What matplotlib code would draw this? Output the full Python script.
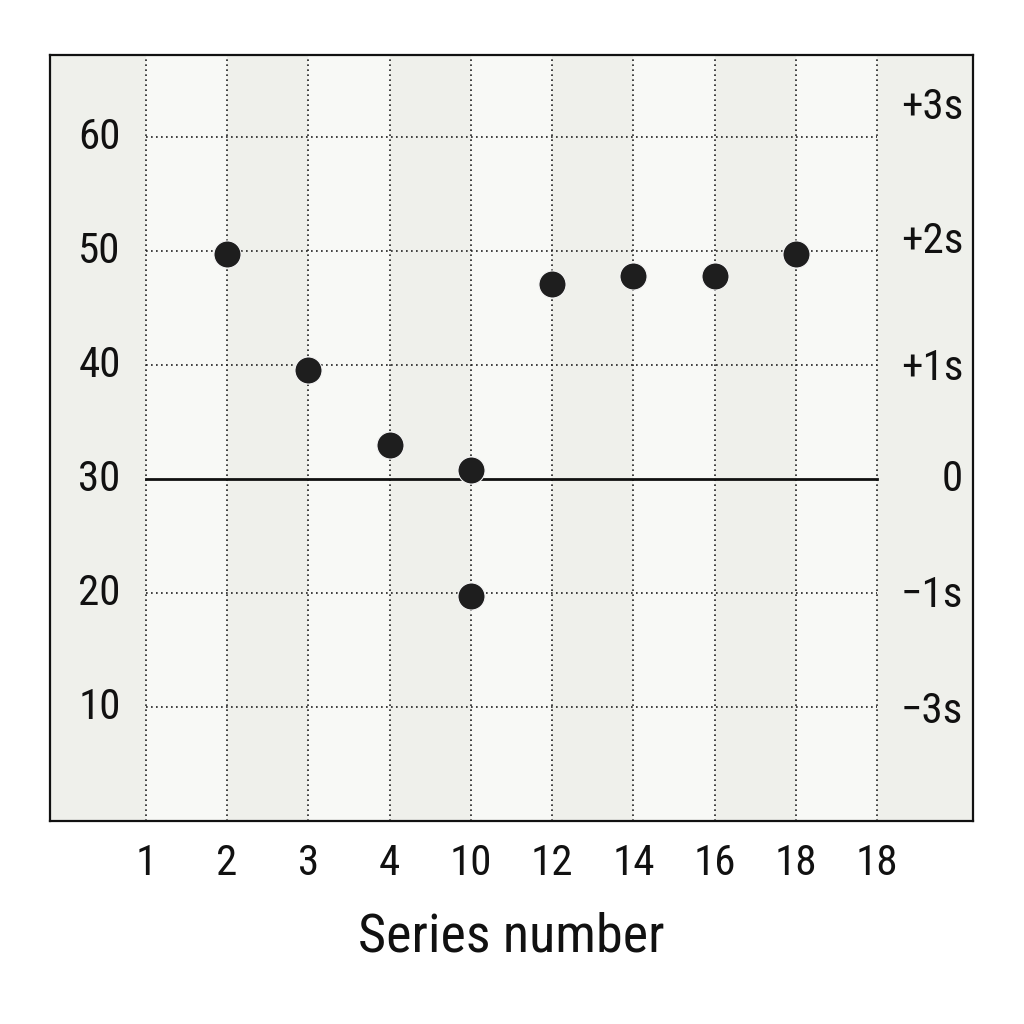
import matplotlib
matplotlib.use("Agg")
import matplotlib.pyplot as plt

plt.rcParams['font.family'] = ['Roboto Condensed', 'Archivo Narrow', 'DejaVu Sans']

# category labels along the x axis (one per column)
x_labels = ["1", "2", "3", "4", "10", "12", "14", "16", "18", "18"]

# observed points: column index and value
pt_col = [1, 2, 3, 4, 4, 5, 6, 7, 8]
pt_val = [49.7, 39.6, 33.0, 30.8, 19.7, 47.1, 47.8, 47.8, 49.7]

# left scale and right sigma labels
left_vals = [60, 50, 40, 30, 20, 10]
right_labels = ["+3s", "+2s", "+1s", "0", "\u22121s", "\u22123s"]
right_vals = [62.6, 50.8, 39.7, 30.0, 19.8, 9.6]
center_val = 30

grey = "#eff0eb"
light = "#f8f9f6"

fig = plt.figure(figsize=(10.24, 10.24), dpi=100)
fig.patch.set_facecolor("white")
ax = fig.add_axes([50 / 1024, (1024 - 821) / 1024, 923 / 1024, 766 / 1024])

n = len(x_labels)
x0, x1 = -1.18, n - 1 + 1.18
ax.set_xlim(x0, x1)
ax.set_ylim(0, 67.2)

# column shading: grey margins and alternating bands
ax.axvspan(x0, 0, color=grey, lw=0, zorder=0)
ax.axvspan(n - 1, x1, color=grey, lw=0, zorder=0)
for i in range(n - 1):
    ax.axvspan(i, i + 1, color=(light if i % 2 == 0 else grey), lw=0, zorder=0)

# dotted grid
for i in range(n):
    ax.plot([i, i], [0, 67.2], color="#222222", lw=1.2, ls=(0, (1, 2)), zorder=1)
for v in left_vals:
    if v == center_val:
        continue
    ax.plot([0, n - 1], [v, v], color="#222222", lw=1.2, ls=(0, (1, 2)), zorder=1)

# center line
ax.plot([0, n - 1], [center_val, center_val], color="#111111", lw=2.0, zorder=2)

# points
ax.plot(pt_col, pt_val, ls="none", marker="o", markersize=19.5,
        markerfacecolor="#1e1e1e", markeredgecolor="#f4f4f4", markeredgewidth=0.8,
        zorder=3)

# labels inside the margins
for v in left_vals:
    ax.text(-0.57, v, str(v), ha="center", va="center", fontsize=31, color="#111111")
for lab, v in zip(right_labels, right_vals):
    ax.text(10.06, v, lab, ha="right", va="center", fontsize=31, color="#111111")

ax.set_xticks(range(n))
ax.set_xticklabels(x_labels, fontsize=31, color="#111111")
ax.tick_params(axis="x", length=0, pad=16)
ax.set_yticks([])
ax.set_xlabel("Series number", fontsize=39, color="#111111", labelpad=20)

for s in ax.spines.values():
    s.set_linewidth(1.6)
    s.set_color("#111111")

fig.savefig("out.png", dpi=100)
